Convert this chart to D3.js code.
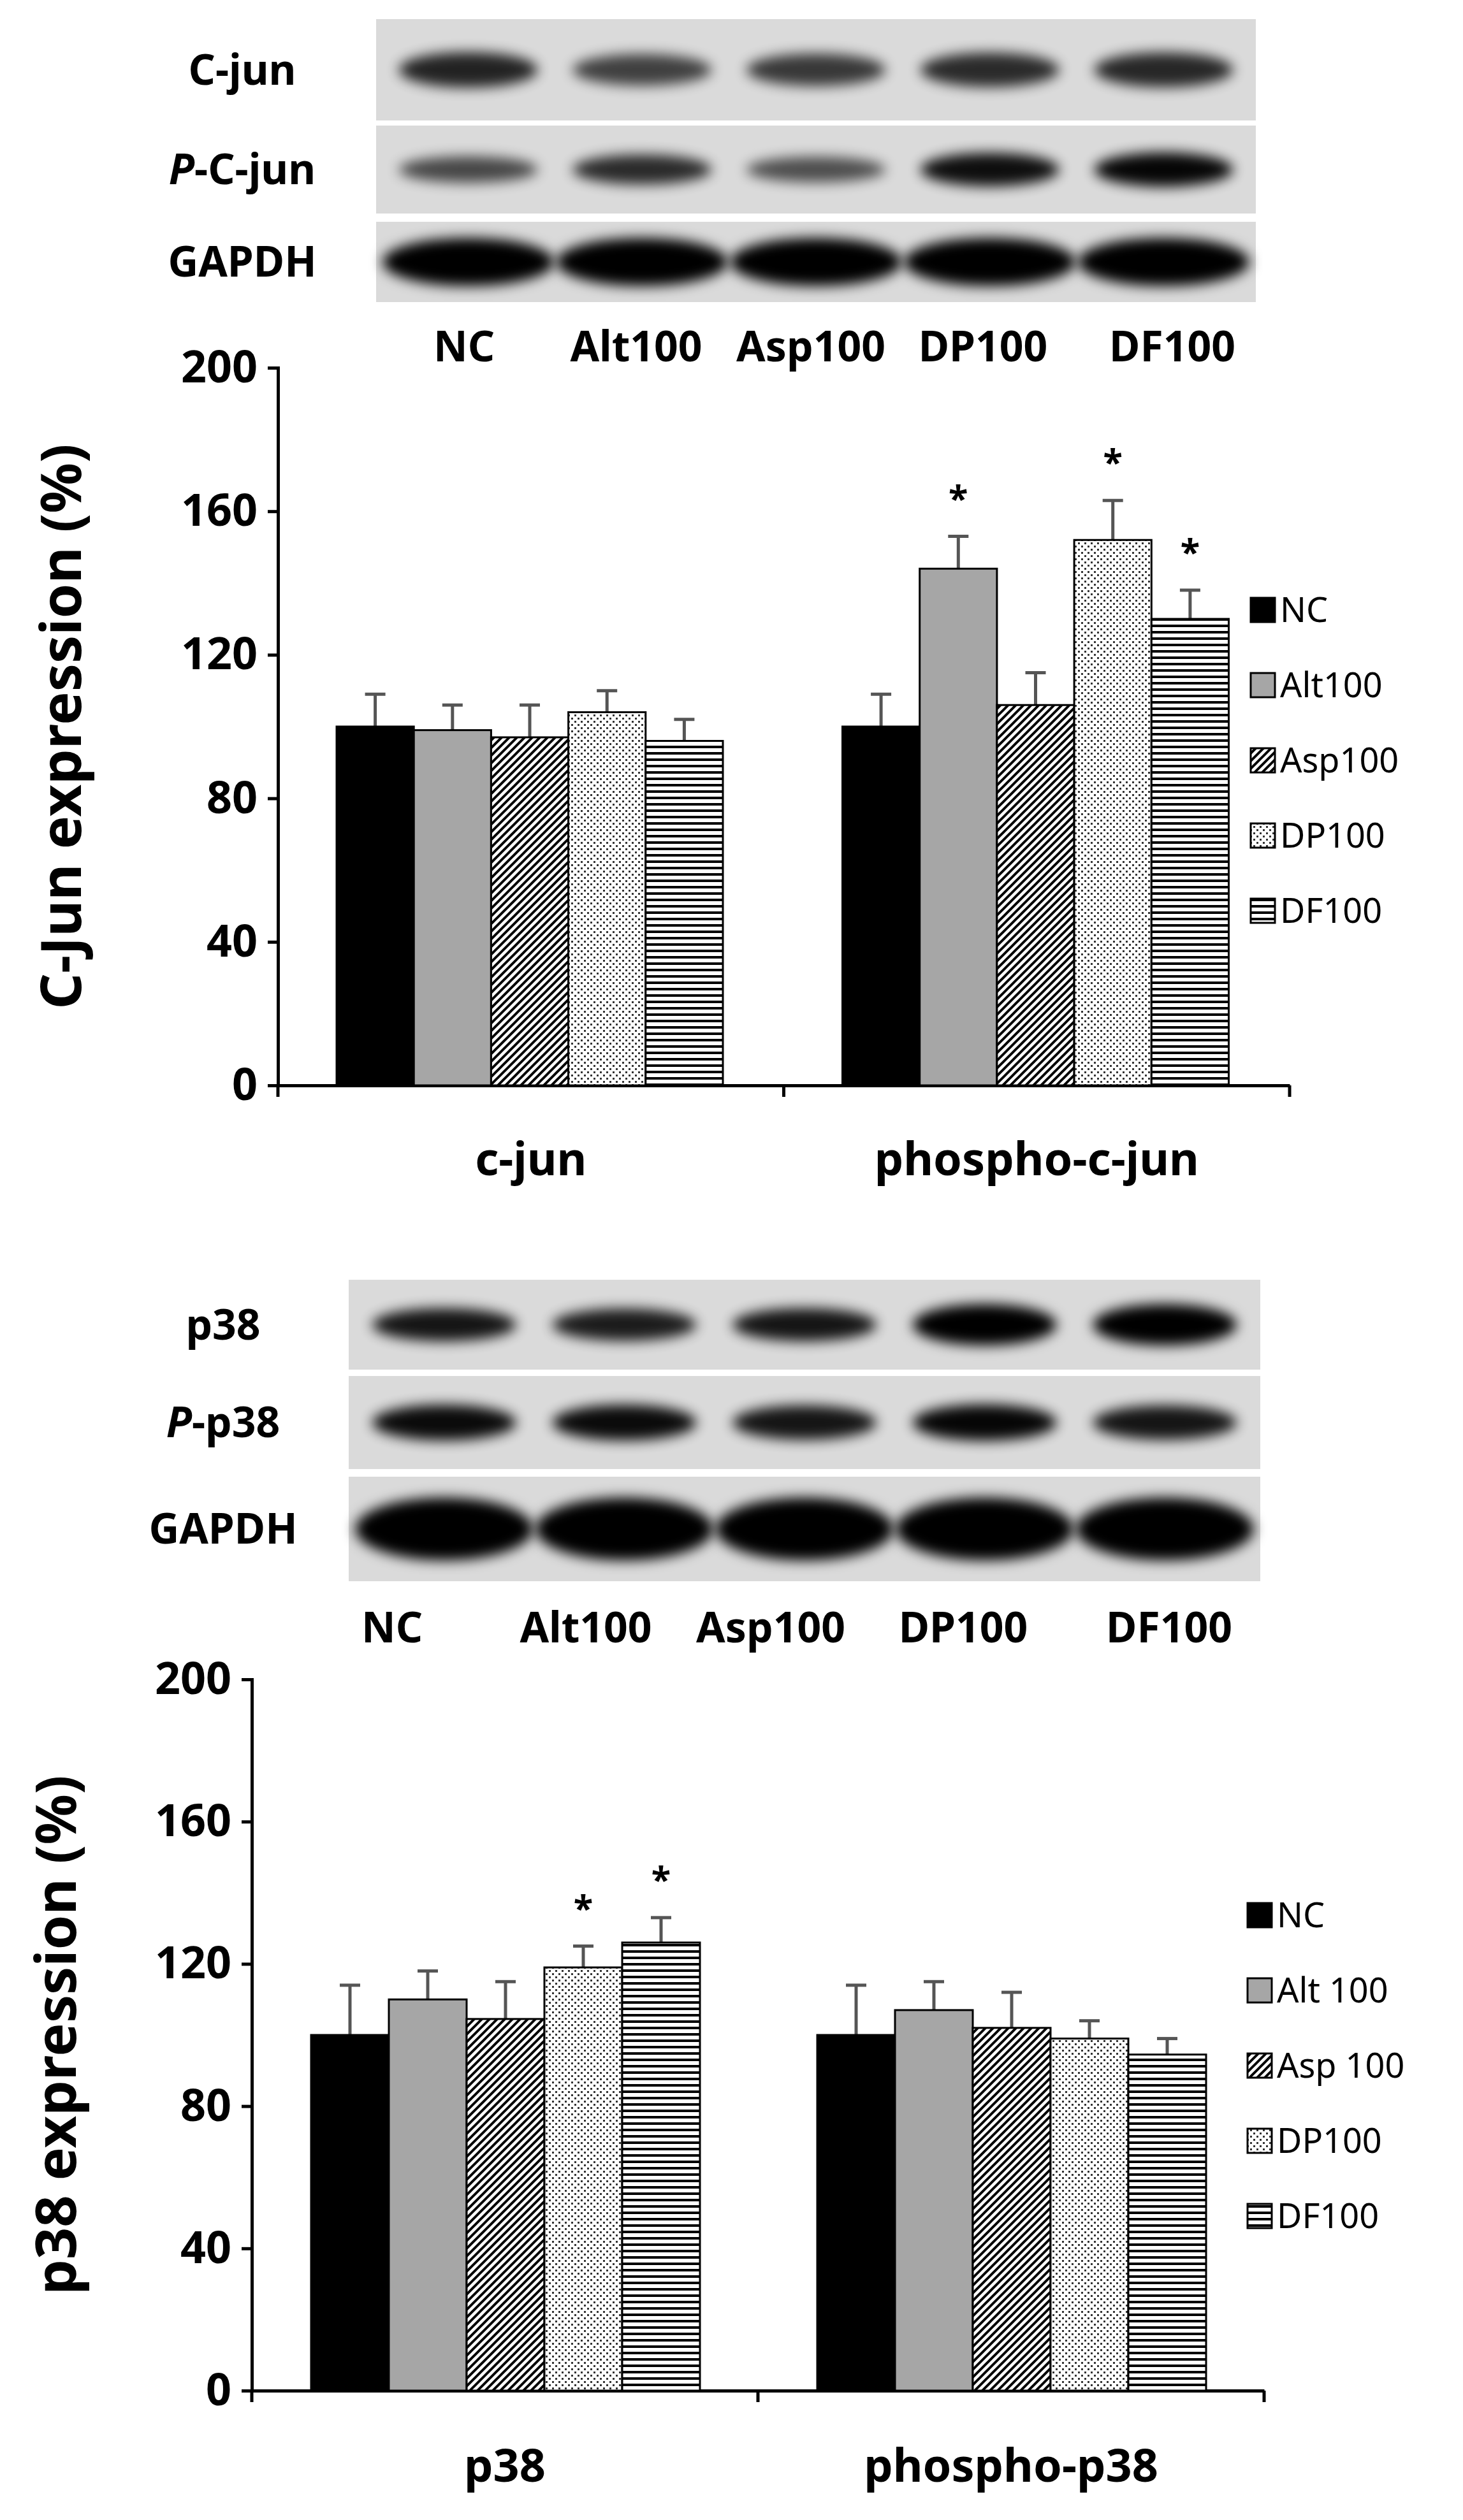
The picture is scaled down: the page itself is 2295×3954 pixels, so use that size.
<!DOCTYPE html>
<html><head><meta charset="utf-8">
<script src="https://cdn.jsdelivr.net/npm/d3@7"></script>
<style>body{margin:0;background:#fff}text{font-family:"Noto Sans","Open Sans",sans-serif}</style>
</head><body>
<script>
// data
const groups1 = ["c-jun", "phospho-c-jun"];
const groups2 = ["p38", "phospho-p38"];
const series1 = ["NC", "Alt100", "Asp100", "DP100", "DF100"];
const series2 = ["NC", "Alt 100", "Asp 100", "DP100", "DF100"];
const lanes = ["NC", "Alt100", "Asp100", "DP100", "DF100"];
const cjunVals = [[100, 99, 97, 104, 96], [100, 144, 106, 152, 130]];
const cjunErr = [[9, 7, 9, 6, 6], [9, 9, 9, 11, 8]];
const cjunStar = [[0, 0, 0, 0, 0], [0, 1, 0, 1, 1]];
const p38Vals = [[100, 110, 104.5, 119, 126], [100, 107, 102, 99, 94.5]];
const p38Err = [[14, 8, 10.5, 6, 7], [14, 8, 10, 5, 4.5]];
const p38Star = [[0, 0, 0, 1, 1], [0, 0, 0, 0, 0]];
const yTicks = [0, 40, 80, 120, 160, 200];
// blot band intensities (0..1) per row per lane
const blot1Ints = [[0.75, 0.55, 0.6, 0.7, 0.72], [0.5, 0.7, 0.45, 0.9, 0.95], [1, 1, 1, 1, 1]];
const blot2Ints = [[0.85, 0.8, 0.85, 1.3, 1.3], [0.92, 0.92, 0.85, 0.95, 0.85], [1, 1, 1, 1, 1]];

const svg = d3.select("body").append("svg").attr("width", 2295).attr("height", 3954);
const defs = svg.append("defs");
defs.append("filter").attr("id", "blur").attr("x", "-20%").attr("y", "-50%").attr("width", "140%").attr("height", "200%")
  .append("feGaussianBlur").attr("stdDeviation", 10);
const pA = defs.append("pattern").attr("id", "diag").attr("patternUnits", "userSpaceOnUse").attr("width", 12).attr("height", 12);
pA.append("rect").attr("width", 12).attr("height", 12).attr("fill", "#fff");
pA.append("path").attr("d", "M-3,15 L15,-3 M-3,3 L3,-3 M9,15 L15,9").attr("stroke", "#000").attr("stroke-width", 4);
const pD = defs.append("pattern").attr("id", "dots").attr("patternUnits", "userSpaceOnUse").attr("width", 10).attr("height", 10);
pD.append("rect").attr("width", 10).attr("height", 10).attr("fill", "#fff");
pD.append("rect").attr("x", 1).attr("y", 1).attr("width", 3).attr("height", 3).attr("fill", "#333");
pD.append("rect").attr("x", 6).attr("y", 6).attr("width", 3).attr("height", 3).attr("fill", "#333");
const pH = defs.append("pattern").attr("id", "horiz").attr("patternUnits", "userSpaceOnUse").attr("width", 10).attr("height", 10);
pH.append("rect").attr("width", 10).attr("height", 10).attr("fill", "#fff");
pH.append("rect").attr("y", 0).attr("width", 10).attr("height", 4).attr("fill", "#000");
const fills = ["#000", "#a6a6a6", "url(#diag)", "url(#dots)", "url(#horiz)"];

function blot(x0, x1, rows, ints, labelX, laneY, laneXs) {
  rows.forEach((r, i) => {
    const g = svg.append("g");
    g.append("rect").attr("x", x0).attr("y", r.y0).attr("width", x1 - x0).attr("height", r.y1 - r.y0).attr("fill", "#dadada");
    const lx = d3.scaleBand().domain(lanes).range([x0, x1]).padding(0.06);
    lanes.forEach((l, j) => {
      const v = ints[i][j];
      g.append("ellipse").attr("cx", lx(l) + lx.bandwidth() / 2).attr("cy", (r.y0 + r.y1) / 2)
        .attr("rx", lx.bandwidth() / 2 * (r.name === "GAPDH" ? 1.05 : 0.85))
        .attr("ry", (r.y1 - r.y0) * (r.name === "GAPDH" ? 0.3 : 0.1 + 0.1 * v))
        .attr("fill", "#000").attr("opacity", r.name === "GAPDH" ? 1 : Math.min(1, 0.35 + 0.65 * v)).attr("filter", "url(#blur)");
    });
    const t = svg.append("text").attr("x", labelX).attr("y", (r.y0 + r.y1) / 2).attr("dy", "0.35em")
      .attr("text-anchor", "middle").attr("font-size", 66).attr("font-weight", "bold");
    if (r.name.startsWith("P-")) {
      t.append("tspan").attr("font-style", "italic").text("P");
      t.append("tspan").text(r.name.slice(1));
    } else t.text(r.name);
  });
  lanes.forEach((l, j) => svg.append("text").attr("x", laneXs[j]).attr("y", laneY).attr("dy", "0.35em")
    .attr("text-anchor", "middle").attr("font-size", 66).attr("font-weight", "bold").text(l));
}

function chart(o) {
  const y = d3.scaleLinear().domain([0, 200]).range([o.bottom, o.top]);
  const x = d3.scaleBand().domain(o.groups).range([o.left, o.right]);
  const inner = d3.scaleBand().domain(o.series).range([o.gx0 - o.left, o.gx1 - o.left]);
  const ax = svg.append("g").attr("transform", `translate(${o.left},0)`)
    .call(d3.axisLeft(y).tickValues(yTicks).tickSize(16).tickPadding(16));
  ax.select(".domain").attr("stroke-width", 5);
  ax.selectAll(".tick line").attr("stroke-width", 5);
  ax.selectAll("text").attr("font-size", 70).attr("font-weight", "bold").attr("fill", "#000");
  const bx = svg.append("g").attr("transform", `translate(0,${o.bottom})`)
    .call(d3.axisBottom(x).tickSize(0).tickFormat(""));
  bx.select(".domain").attr("stroke-width", 5);
  [o.left, (o.left + o.right) / 2, o.right].forEach(t =>
    svg.append("line").attr("x1", t).attr("x2", t).attr("y1", o.bottom).attr("y2", o.bottom + 18).attr("stroke", "#000").attr("stroke-width", 5));
  o.groups.forEach((g, gi) => {
    const off = x(g);
    o.series.forEach((s, si) => {
      const v = o.vals[gi][si], e = o.errs[gi][si];
      const bxp = off + inner(s), w = inner.bandwidth(), cx = bxp + w / 2;
      svg.append("line").attr("x1", cx).attr("x2", cx).attr("y1", y(v)).attr("y2", y(v + e)).attr("stroke", "#555").attr("stroke-width", 5);
      svg.append("line").attr("x1", cx - 16).attr("x2", cx + 16).attr("y1", y(v + e)).attr("y2", y(v + e)).attr("stroke", "#555").attr("stroke-width", 5);
      svg.append("rect").attr("x", bxp).attr("y", y(v)).attr("width", w).attr("height", y(0) - y(v))
        .attr("fill", fills[si]).attr("stroke", "#000").attr("stroke-width", 3);
      if (o.stars[gi][si]) svg.append("text").attr("x", cx).attr("y", y(v + e) - 40).attr("text-anchor", "middle")
        .attr("font-size", 56).attr("font-weight", "bold").text("*");
    });
    svg.append("text").attr("x", off + x.bandwidth() / 2).attr("y", o.catY).attr("text-anchor", "middle").attr("dy", "0.35em")
      .attr("font-size", 72).attr("font-weight", "bold").text(g);
  });
  svg.append("text").attr("transform", `translate(${o.titleX},${(o.top + o.bottom) / 2}) rotate(-90)`).attr("dy", "0.35em")
    .attr("text-anchor", "middle").attr("font-size", 88).attr("font-weight", "bold").text(o.title);
  o.series.forEach((s, si) => {
    const ly = o.legY + si * o.legStep;
    svg.append("rect").attr("x", o.legX).attr("y", ly - 19).attr("width", 38).attr("height", 38)
      .attr("fill", fills[si]).attr("stroke", "#000").attr("stroke-width", 3);
    svg.append("text").attr("x", o.legX + 46).attr("y", ly).attr("dy", "0.35em").attr("font-size", 54).text(s);
  });
}

blot(590, 1970, [{name: "C-jun", y0: 30, y1: 189}, {name: "P-C-jun", y0: 197, y1: 335}, {name: "GAPDH", y0: 348, y1: 474}],
  blot1Ints, 380, 544, [728, 998, 1272, 1542, 1839]);
blot(547, 1977, [{name: "p38", y0: 2008, y1: 2149}, {name: "P-p38", y0: 2159, y1: 2305}, {name: "GAPDH", y0: 2317, y1: 2481}],
  blot2Ints, 350, 2554, [615, 919, 1209, 1511, 1834]);

chart({groups: groups1, series: series1, vals: cjunVals, errs: cjunErr, stars: cjunStar,
  left: 436, right: 2023, top: 577, bottom: 1703, gx0: 528, gx1: 1134, catY: 1819,
  title: "C-Jun expression (%)", titleX: 96, legX: 1962, legY: 957, legStep: 118});
chart({groups: groups2, series: series2, vals: p38Vals, errs: p38Err, stars: p38Star,
  left: 395, right: 1983, top: 2635, bottom: 3751, gx0: 488, gx1: 1098, catY: 3869,
  title: "p38 expression (%)", titleX: 88, legX: 1957, legY: 3005, legStep: 118});
</script>
</body></html>
